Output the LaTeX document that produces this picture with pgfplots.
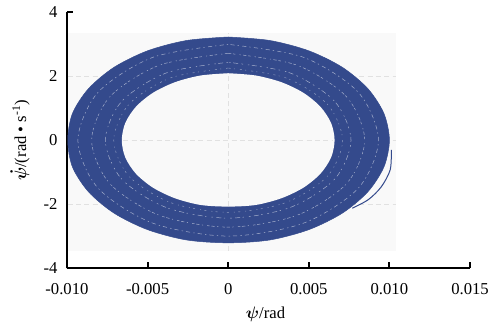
\documentclass[border=0pt]{standalone}
\usepackage{pgfplots}
\pgfplotsset{compat=1.18}
\usepackage{amsmath}
\usepackage{fontspec}
\setmainfont{Liberation Serif}
\definecolor{ringblue}{RGB}{52,74,140}
\definecolor{bggray}{RGB}{249,249,249}
\definecolor{gridc}{RGB}{225,225,225}
\begin{document}
\begin{tikzpicture}
\begin{axis}[
  scale only axis,
  width=242pt, height=154pt,
  xmin=-0.010, xmax=0.015, ymin=-4, ymax=4,
  axis x line=bottom, axis y line=left,
  axis line style={-, line width=1.2pt},
  xtick={-0.010,-0.005,0,0.005,0.010,0.015},
  xticklabels={-0.010,-0.005,0,0.005,0.010,0.015},
  ytick={-4,-2,0,2,4},
  yticklabels={-4,-2,0,2,4},
  scaled x ticks=false,
  tick align=inside,
  major tick length=3.6pt,
  tick style={line width=1.2pt, black},
  tick label style={font=\fontsize{10pt}{11pt}\selectfont},
  /pgf/number format/assume math mode=true,
  xticklabel style={anchor=center, yshift=-12.3pt},
  yticklabel style={anchor=east, xshift=-2.1pt},
  xlabel={$\boldsymbol{\psi}$/rad},
  ylabel={$\boldsymbol{\dot{\psi}}$/(rad • s\textsuperscript{-1})},
  label style={font=\fontsize{10pt}{11pt}\selectfont},
  xlabel style={at={(axis description cs:0.4926,-0.1792)}, anchor=center},
  ylabel style={at={(axis description cs:-0.1165,0.5)}, anchor=center},
  clip=false,
]
% background panel
\addplot[fill=bggray, draw=none] coordinates {(-0.00995,-3.45) (0.0104,-3.45) (0.0104,3.35) (-0.00995,3.35)} --cycle;
% faint grid lines
\addplot[gridc, densely dashed, line width=0.4pt] coordinates {(-0.00995,2) (0.0104,2)};
\addplot[gridc, densely dashed, line width=0.4pt] coordinates {(-0.00995,0) (0.0104,0)};
\addplot[gridc, densely dashed, line width=0.4pt] coordinates {(-0.00995,-2) (0.0104,-2)};
\addplot[gridc, densely dashed, line width=0.4pt] coordinates {(0,-3.45) (0,3.35)};
% outer boundary of ring
\addplot[fill=ringblue, draw=ringblue, line width=0.3pt, smooth] coordinates {
(0,3.22) (-0.00259,3.110) (-0.00500,2.789) (-0.00707,2.277) (-0.00866,1.610) (-0.00966,0.833)
(-0.00995,0) (-0.00966,-0.833) (-0.00866,-1.610) (-0.00707,-2.277) (-0.00500,-2.789) (-0.00259,-3.110)
(0,-3.20) (0.00259,-3.110) (0.00500,-2.789) (0.00707,-2.277) (0.00866,-1.610) (0.00966,-0.833)
(0.0100,0) (0.00966,0.833) (0.00866,1.610) (0.00707,2.277) (0.00500,2.789) (0.00259,3.110) (0,3.22)} --cycle;
% tail
\addplot[ringblue, line width=0.6pt, smooth] coordinates {(0.01012,-0.3) (0.01005,-0.92) (0.0095,-1.45) (0.0087,-1.85) (0.0077,-2.12)};
% streaks
\addplot[white, line width=0.3pt, opacity=0.55, dash pattern=on 1pt off 2pt on 3pt off 1.5pt on 0.8pt off 3pt, smooth] coordinates {
(0,2.43) (-0.00381,2.104) (-0.00660,1.215) (-0.00762,0) (-0.00660,-1.215) (-0.00381,-2.104) (0,-2.43) (0.00381,-2.104) (0.00660,-1.215) (0.00762,0) (0.00660,1.215) (0.00381,2.104) (0,2.43)};
\addplot[white, line width=0.3pt, opacity=0.55, dash pattern=on 2pt off 1.5pt on 0.7pt off 2.5pt on 1.5pt off 1pt, smooth] coordinates {
(0,2.71) (-0.004235,2.347) (-0.00734,1.355) (-0.00847,0) (-0.00734,-1.355) (-0.004235,-2.347) (0,-2.71) (0.004235,-2.347) (0.00734,-1.355) (0.00847,0) (0.00734,1.355) (0.004235,2.347) (0,2.71)};
\addplot[white, line width=0.3pt, opacity=0.55, dash pattern=on 0.8pt off 1.8pt on 2.5pt off 2pt, smooth] coordinates {
(0,2.99) (-0.00466,2.589) (-0.00807,1.495) (-0.00932,0) (-0.00807,-1.495) (-0.00466,-2.589) (0,-2.99) (0.00466,-2.589) (0.00807,-1.495) (0.00932,0) (0.00807,1.495) (0.00466,2.589) (0,2.99)};
\addplot[white, line width=0.3pt, opacity=0.45, dash pattern=on 1.2pt off 3pt on 0.6pt off 2pt, smooth] coordinates {
(0,2.25) (-0.00355,1.949) (-0.00615,1.125) (-0.0071,0) (-0.00615,-1.125) (-0.00355,-1.949) (0,-2.25) (0.00355,-1.949) (0.00615,-1.125) (0.0071,0) (0.00615,1.125) (0.00355,1.949) (0,2.25)};
% inner hole
\addplot[fill=bggray, draw=none, smooth] coordinates {
(0,2.09) (-0.00171,2.019) (-0.0033,1.810) (-0.00467,1.478) (-0.00572,1.045) (-0.00638,0.541)
(-0.0066,0) (-0.00638,-0.541) (-0.00572,-1.045) (-0.00467,-1.478) (-0.0033,-1.810) (-0.00171,-2.019)
(0,-2.07) (0.00171,-2.019) (0.0033,-1.810) (0.00467,-1.478) (0.00572,-1.045) (0.00638,-0.541)
(0.0066,0) (0.00638,0.541) (0.00572,1.045) (0.00467,1.478) (0.0033,1.810) (0.00171,2.019) (0,2.09)} --cycle;
% grid visible in the hole
\addplot[gridc, densely dashed, line width=0.4pt] coordinates {(-0.0065,0) (0.0065,0)};
\addplot[gridc, densely dashed, line width=0.4pt] coordinates {(0,-2.05) (0,2.07)};
\end{axis}
\pgfresetboundingbox
\path ([xshift=-40.2pt,yshift=-34.2pt]current axis.south west) rectangle ([xshift=16.2pt,yshift=7.2pt]current axis.north east);
\end{tikzpicture}
\end{document}
